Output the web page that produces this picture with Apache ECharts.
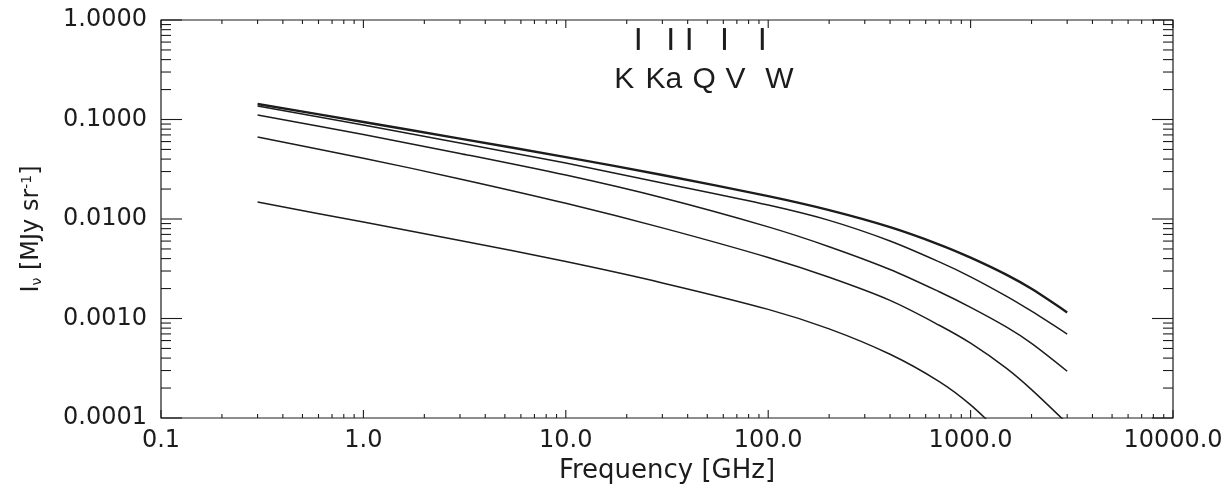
<!DOCTYPE html>
<html>
<head>
<meta charset="utf-8">
<script src="https://cdn.jsdelivr.net/npm/echarts@6/dist/echarts.min.js"></script>
<style>
  html, body { margin: 0; padding: 0; background: #ffffff; }
  #chart { width: 1232px; height: 491px; }
</style>
</head>
<body>
<div id="chart"></div>
<script>
// Frequencies (GHz) at which each spectrum is sampled
const frequencies = [0.3, 1, 3, 10, 30, 100, 200, 400, 700, 1000, 1500, 2000, 3000];

// Intensity spectra I_nu in MJy/sr, top to bottom
const spectrumA = [0.1432, 0.0944, 0.06427, 0.04190, 0.02768, 0.01695, 0.01226, 0.008272, 0.005542, 0.004093, 0.002762, 0.001988, 0.001152];
const spectrumB = [0.1367, 0.08784, 0.05805, 0.03646, 0.02305, 0.01380, 0.009681, 0.006011, 0.003705, 0.002625, 0.001679, 0.001184, 0.000698];
const spectrumC = [0.1110, 0.0705, 0.04563, 0.02762, 0.01634, 0.008329, 0.005268, 0.003108, 0.001855, 0.001293, 0.000822, 0.000562, 0.000295];
const spectrumD = [0.0667, 0.04084, 0.02529, 0.01438, 0.00814, 0.004103, 0.002595, 0.001520, 0.000856, 0.000565, 0.000317, 0.000193, 0.0000881];
const spectrumE = [0.01482, 0.009307, 0.006095, 0.003731, 0.002279, 0.001235, 0.000786, 0.0004368, 0.0002322, 0.0001354, 0.0000618];

// WMAP band centres (GHz) and names
const bandFreqs = [22.8, 33.0, 40.7, 60.8, 93.5];
const bandNames = ['K', 'Ka', 'Q', 'V', 'W'];

// Axis ranges and major tick values
const xTickValues = [0.1, 1, 10, 100, 1000, 10000];
const yTickValues = [0.0001, 0.001, 0.01, 0.1, 1];

const X_MIN = xTickValues[0], X_MAX = xTickValues[xTickValues.length - 1];
const Y_MIN = yTickValues[0], Y_MAX = yTickValues[yTickValues.length - 1];

const INK = '#1c1c1c';
const FONT = 'DejaVu Sans';

// Log-decade tick marks: [value, isMajor]
function decadeTicks(majors) {
  const out = [];
  majors.forEach((d, i) => {
    out.push([d, 1]);
    if (i < majors.length - 1) {
      for (let m = 2; m <= 9; m++) out.push([d * m, 0]);
    }
  });
  return out;
}
const xTickMarks = decadeTicks(xTickValues).map(t => [t[0], 0.01, t[1]]);
const yTickMarks = decadeTicks(yTickValues).map(t => [1, t[0], t[1]]);

function pairs(values) {
  return values.map((v, i) => [frequencies[i], v]);
}

function lineSeries(name, values, width) {
  return {
    name: name,
    type: 'line',
    data: pairs(values),
    showSymbol: false,
    smooth: 0.3,
    clip: true,
    silent: true,
    lineStyle: { color: INK, width: width, join: 'round' },
    z: 3
  };
}

const chart = echarts.init(document.getElementById('chart'), null, { renderer: 'canvas' });

const option = {
  animation: false,
  backgroundColor: '#ffffff',
  grid: {
    left: 161, right: 59, top: 20, bottom: 73,
    containLabel: false,
    outerBoundsMode: 'none',
    show: true,
    borderColor: INK,
    borderWidth: 1.2,
    backgroundColor: 'transparent'
  },
  xAxis: {
    type: 'log',
    logBase: 10,
    min: X_MIN,
    max: X_MAX,
    splitNumber: 5,
    axisLine: { show: false },
    axisTick: { show: false },
    splitLine: { show: false },
    axisLabel: {
      margin: 11,
      color: INK,
      fontFamily: FONT,
      fontSize: 24,
      formatter: v => {
        const e = Math.round(Math.log10(v));
        return e < 0 ? (Math.pow(10, e)).toFixed(-e) : Math.pow(10, e).toFixed(1);
      }
    },
    name: 'Frequency [GHz]',
    nameLocation: 'middle',
    nameGap: 36,
    nameTextStyle: { color: INK, fontFamily: FONT, fontSize: 26 }
  },
  yAxis: {
    type: 'log',
    logBase: 10,
    min: Y_MIN,
    max: Y_MAX,
    splitNumber: 4,
    axisLine: { show: false },
    axisTick: { show: false },
    splitLine: { show: false },
    axisLabel: {
      margin: 14,
      color: INK,
      fontFamily: FONT,
      fontSize: 24,
      formatter: v => Math.pow(10, Math.round(Math.log10(v))).toFixed(4)
    },
    name: 'I{sub|ν} [MJy sr{sup|-1}]',
    nameLocation: 'middle',
    nameRotate: 90,
    nameGap: 117,
    nameTextStyle: {
      color: INK, fontFamily: FONT, fontSize: 24,
      padding: [0, 20, 0, 0],
      rich: {
        sub: { fontFamily: FONT, fontSize: 14, color: INK, verticalAlign: 'bottom', padding: [10, 0, 0, 0] },
        sup: { fontFamily: FONT, fontSize: 14, color: INK, verticalAlign: 'top', padding: [0, 0, 10, 0] }
      }
    }
  },
  series: [
    lineSeries('A', spectrumA, 2.4),
    lineSeries('B', spectrumB, 1.5),
    lineSeries('C', spectrumC, 1.5),
    lineSeries('D', spectrumD, 1.5),
    lineSeries('E', spectrumE, 1.5),
    {
      // tick marks along the bottom and top frame
      type: 'custom',
      silent: true,
      clip: false,
      data: xTickMarks,
      encode: { x: 0, y: 1 },
      renderItem: (params, api) => {
        const v = api.value(0);
        const len = api.value(2) ? 8 : 4;
        const pb = api.coord([v, Y_MIN]);
        const pt = api.coord([v, Y_MAX]);
        const st = { stroke: INK, lineWidth: 1.1 };
        return {
          type: 'group',
          children: [
            { type: 'line', shape: { x1: pb[0], y1: pb[1], x2: pb[0], y2: pb[1] - len }, style: st },
            { type: 'line', shape: { x1: pt[0], y1: pt[1], x2: pt[0], y2: pt[1] + len }, style: st }
          ]
        };
      },
      z: 4
    },
    {
      // tick marks along the left and right frame
      type: 'custom',
      silent: true,
      clip: false,
      data: yTickMarks,
      encode: { x: 0, y: 1 },
      renderItem: (params, api) => {
        const v = api.value(1);
        const len = api.value(2) ? 21 : 10;
        const pl = api.coord([X_MIN, v]);
        const pr = api.coord([X_MAX, v]);
        const st = { stroke: INK, lineWidth: 1.1 };
        return {
          type: 'group',
          children: [
            { type: 'line', shape: { x1: pl[0], y1: pl[1], x2: pl[0] + len, y2: pl[1] }, style: st },
            { type: 'line', shape: { x1: pr[0], y1: pr[1], x2: pr[0] - len, y2: pr[1] }, style: st }
          ]
        };
      },
      z: 4
    },
    {
      // band markers and names
      type: 'custom',
      silent: true,
      clip: false,
      data: bandFreqs.map((f, i) => [f, 0.65, i]),
      encode: { x: 0, y: 1 },
      renderItem: (params, api) => {
        const f = api.value(0);
        const i = api.value(2);
        const labelShift = [-14, -7, 15, 11, 17][i];
        const top = api.coord([f, 0.83]);
        const bot = api.coord([f, 0.5]);
        const lab = api.coord([f, 0.25]);
        return {
          type: 'group',
          children: [
            { type: 'line', shape: { x1: top[0], y1: top[1], x2: bot[0], y2: bot[1] },
              style: { stroke: INK, lineWidth: 3 } },
            { type: 'text', x: lab[0] + labelShift, y: lab[1],
              style: { text: bandNames[i], fill: INK, fontFamily: 'Liberation Sans', fontSize: 30,
                       align: 'center', verticalAlign: 'middle' } }
          ]
        };
      },
      z: 5
    }
  ]
};

chart.setOption(option);
</script>
</body>
</html>
